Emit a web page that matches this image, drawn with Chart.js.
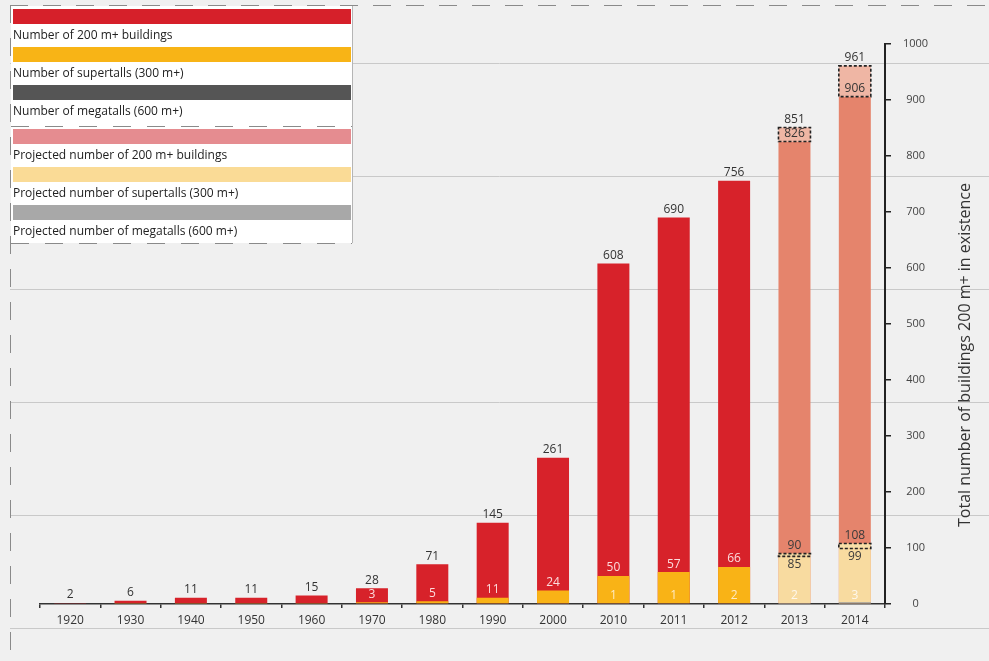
<!DOCTYPE html>
<html>
<head>
<meta charset="utf-8">
<script src="https://cdn.jsdelivr.net/npm/chart.js@4.4.1/dist/chart.umd.min.js"></script>
<style>
  body { margin: 0; background: #f0f0f0; }
  #wrap { position: relative; width: 989px; height: 661px; background: #f0f0f0; }
  #legend {
    position: absolute; left: 11px; top: 6px; width: 341px; height: 237px;
    background: #fff; border-right: 1px solid #b5b5b5;
    font-family: "Open Sans", sans-serif; font-size: 12px; color: #222;
  }
  #legend .sw { position: absolute; left: 2px; width: 338px; height: 15px; }
  #legend .tx { position: absolute; left: 2px; line-height: 16px; white-space: nowrap; }
  #legend .dash {
    position: absolute; left: 0; width: 341px; height: 1px;
    background: repeating-linear-gradient(to right, #8a8a8a 0 18px, transparent 18px 34px);
  }
</style>
</head>
<body>
<div id="wrap">
  <canvas id="towers"></canvas>
  <div id="legend"></div>
</div>
<script>
const years = ['1920', '1930', '1940', '1950', '1960', '1970', '1980', '1990', '2000', '2010', '2011', '2012', '2013', '2014'];

// completed buildings
const totalBuilt     = [2, 6, 11, 11, 15, 28, 71, 145, 261, 608, 690, 756, null, null];
const supertallBuilt = [0, 1, 2, 2, 2, 3, 5, 11, 24, 50, 57, 66, null, null];
const megatallBuilt  = [0, 0, 0, 0, 0, 0, 0, 0, 0, 1, 1, 2, null, null];

// projections (low estimate, high estimate)
const totalProjected     = [null, null, null, null, null, null, null, null, null, null, null, null, 826, 906];
const totalProjectedHigh = [null, null, null, null, null, null, null, null, null, null, null, null, 851, 961];
const supertallProjected     = [null, null, null, null, null, null, null, null, null, null, null, null, 85, 99];
const supertallProjectedHigh = [null, null, null, null, null, null, null, null, null, null, null, null, 90, 108];
const megatallProjected  = [null, null, null, null, null, null, null, null, null, null, null, null, 2, 3];

const yTicksMax = 1000;
// light horizontal rules of the page behind the chart
const backdropRules = [966, 764, 562, 361, 159, -43];

const legendItems = [
  { label: 'Number of 200 m+ buildings', color: '#d6202a' },
  { label: 'Number of supertalls (300 m+)', color: '#f8b416' },
  { label: 'Number of megatalls (600 m+)', color: '#555555' },
  { label: 'Projected number of 200 m+ buildings', color: '#e58c90' },
  { label: 'Projected number of supertalls (300 m+)', color: '#fadb96' },
  { label: 'Projected number of megatalls (600 m+)', color: '#a8a8a8' }
];

// legend box
const legend = document.getElementById('legend');
legendItems.forEach((item, i) => {
  const top = 3 + i * 38 + (i > 2 ? 6 : 0);
  const sw = document.createElement('div');
  sw.className = 'sw';
  sw.style.top = top + 'px';
  sw.style.background = item.color;
  legend.appendChild(sw);
  const tx = document.createElement('div');
  tx.className = 'tx';
  tx.style.top = (top + 18) + 'px';
  tx.textContent = item.label;
  legend.appendChild(tx);
});
[120, 237].forEach(top => {
  const d = document.createElement('div');
  d.className = 'dash';
  d.style.top = top + 'px';
  legend.appendChild(d);
});

const range = (lo, hi) => lo.map((v, i) => (v == null ? null : [v, hi[i]]));

const backdrop = {
  id: 'backdrop',
  beforeDraw(chart) {
    const { ctx, width, height, scales: { y } } = chart;
    ctx.save();
    ctx.strokeStyle = '#c9c9c9';
    ctx.lineWidth = 1;
    backdropRules.forEach(v => {
      const py = Math.round(y.getPixelForValue(v)) + 0.5;
      ctx.beginPath();
      ctx.moveTo(10, py);
      ctx.lineTo(width, py);
      ctx.stroke();
    });
    // dashed page frame
    ctx.strokeStyle = '#8a8a8a';
    ctx.setLineDash([18, 15]);
    ctx.beginPath();
    ctx.moveTo(10, 5.5);
    ctx.lineTo(width, 5.5);
    ctx.moveTo(10.5, 5);
    ctx.lineTo(10.5, height);
    ctx.stroke();
    ctx.restore();
  }
};

const valueLabels = {
  id: 'valueLabels',
  afterDatasetsDraw(chart) {
    const { ctx, scales: { x, y } } = chart;
    ctx.save();
    ctx.textAlign = 'center';
    ctx.font = '12px "Open Sans", sans-serif';

    // dashed outlines around the projection ranges
    ctx.strokeStyle = '#222';
    ctx.lineWidth = 1.6;
    ctx.setLineDash([3, 2]);
    [2, 5].forEach(idx => {
      chart.getDatasetMeta(idx).data.forEach((bar, i) => {
        if (chart.data.datasets[idx].data[i] == null) return;
        const p = bar.getProps(['x', 'y', 'base', 'width'], true);
        ctx.strokeRect(p.x - p.width / 2, p.y, p.width, p.base - p.y);
      });
    });
    ctx.setLineDash([]);

    const put = (i, v, text, color, where) => {
      const px = x.getPixelForValue(i);
      const py = y.getPixelForValue(v);
      ctx.fillStyle = color;
      if (where === 'above') {
        ctx.textBaseline = 'bottom';
        ctx.fillText(text, px, py - 2);
      } else {
        ctx.textBaseline = 'top';
        ctx.fillText(text, px, py + 2);
      }
    };

    years.forEach((yr, i) => {
      if (totalBuilt[i] != null) {
        put(i, totalBuilt[i], totalBuilt[i], '#333', 'above');
        if (supertallBuilt[i] >= 3) put(i, supertallBuilt[i], supertallBuilt[i], 'rgba(255,235,235,0.92)', 'above');
        if (megatallBuilt[i] >= 1) put(i, 0, megatallBuilt[i], 'rgba(255,245,225,0.85)', 'above');
      } else {
        put(i, totalProjectedHigh[i], totalProjectedHigh[i], '#333', 'above');
        put(i, totalProjected[i], totalProjected[i], '#333', 'above');
        put(i, supertallProjectedHigh[i], supertallProjectedHigh[i], '#3a3a3a', 'above');
        put(i, supertallProjected[i], supertallProjected[i], '#3a3a3a', 'below');
        put(i, 0, megatallProjected[i], 'rgba(255,255,255,0.8)', 'above');
      }
    });

    // axis title, reading bottom to top
    ctx.save();
    ctx.translate(y.right - 24, (y.top + y.bottom) / 2 + 31);
    ctx.rotate(-Math.PI / 2);
    ctx.font = '16px "Open Sans", sans-serif';
    ctx.fillStyle = '#333';
    ctx.textBaseline = 'middle';
    ctx.fillText('Total number of buildings 200 m+ in existence', 0, 0);
    ctx.restore();

    ctx.restore();
  }
};

new Chart(document.getElementById('towers'), {
  type: 'bar',
  data: {
    labels: years,
    datasets: [
      { label: 'Megatalls', data: megatallBuilt, backgroundColor: '#555555' },
      { label: 'Megatalls projected', data: megatallProjected, backgroundColor: '#9e9e9e' },
      { label: 'Supertalls projected range', data: range(supertallProjected, supertallProjectedHigh), backgroundColor: '#f9dfa8' },
      { label: 'Supertalls', data: supertallBuilt, backgroundColor: '#f9b316' },
      { label: 'Supertalls projected', data: supertallProjected, backgroundColor: '#f8dba0' },
      { label: '200 m+ projected range', data: range(totalProjected, totalProjectedHigh), backgroundColor: '#efb6a4' },
      { label: '200 m+ buildings', data: totalBuilt, backgroundColor: '#d7222a' },
      { label: '200 m+ projected', data: totalProjected, backgroundColor: '#e5846c' }
    ]
  },
  options: {
    responsive: true,
    maintainAspectRatio: false,
    animation: false,
    categoryPercentage: 1,
    barPercentage: 0.53,
    layout: { padding: { top: 44, left: 40, right: 0, bottom: 0 } },
    plugins: {
      legend: { display: false },
      tooltip: { enabled: false }
    },
    scales: {
      x: {
        stacked: true,
        afterFit(scale) { scale.height = 57; },
        grid: { drawOnChartArea: false, tickLength: 4, color: '#333', lineWidth: 1.5 },
        border: { color: '#333', width: 1.5 },
        ticks: { color: '#333', padding: 5, font: { size: 12, family: '"Open Sans", sans-serif' } }
      },
      y: {
        position: 'right',
        min: 0,
        max: yTicksMax,
        afterFit(scale) { scale.width = 104; },
        grid: { drawOnChartArea: false, tickLength: 6, color: '#222', lineWidth: 1.5 },
        border: { color: '#222', width: 2 },
        ticks: {
          stepSize: 100,
          crossAlign: 'center',
          padding: 12,
          color: '#444',
          font: { size: 11, family: '"Open Sans", sans-serif' },
          callback: v => String(v)
        }
      }
    }
  },
  plugins: [backdrop, valueLabels]
});
</script>
</body>
</html>
